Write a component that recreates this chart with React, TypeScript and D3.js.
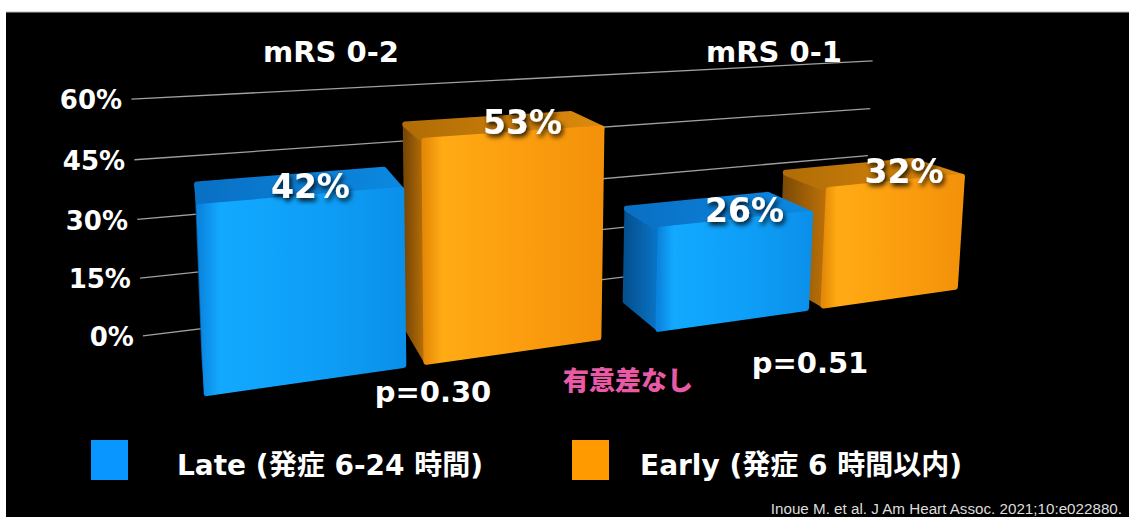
import * as d3 from "d3";
import { useEffect, useRef } from "react";

// ---- data ----
const groups = ["mRS 0-2", "mRS 0-1"];
const seriesNames = ["Late", "Early"];
const lateValues = [42, 26];
const earlyValues = [53, 32];
const yTicks = [0, 15, 30, 45, 60];
const pLabels = ["p=0.30", "p=0.51"];
const legendLabels = ["Late (発症 6-24 時間)", "Early (発症 6 時間以内)"];
const noteText = "有意差なし";
const citation = "Inoue M. et al. J Am Heart Assoc. 2021;10:e022880.";

const W = 1129;
const H = 517;
const FONT = "'DejaVu Sans', 'Noto Sans CJK JP', sans-serif";

// ---- camera (simple perspective, camera at world origin) ----
const CX = 492;
const CY = 52;
const F = 975;
const YAW = (18.1 * Math.PI) / 180;
const PITCH = (7.4 * Math.PI) / 180;
const FLOOR = -475.6; // world Y of the floor
const Z_FRONT = 990.6; // front plane of bars
const DEPTH = 90; // bar depth
const Z_WALL = 1160; // back wall with gridlines
const WALL_X = [-50, 960];

function project(X: number, Y: number, Z: number): [number, number] {
  const ct = Math.cos(YAW), st = Math.sin(YAW);
  const cp = Math.cos(PITCH), sp = Math.sin(PITCH);
  const x1 = X * ct - Z * st;
  const z1 = X * st + Z * ct;
  const y2 = Y * cp + z1 * sp;
  const z2 = -Y * sp + z1 * cp;
  return [CX + (F * x1) / z2, CY - (F * y2) / z2];
}

const colors: Record<string, any> = {
  Late: { front: ["#0a84de", "#12a9ff", "#0e9ef7", "#0b90ea"], top: ["#0970c4", "#0c88e0"], side: ["#05508f", "#0a78cc"], key: "#0996ff" },
  Early: { front: ["#e58a08", "#ffab14", "#fb9c0e", "#f3920a"], top: ["#b06c06", "#dc8a0c"], side: ["#7a4805", "#c07408"], key: "#ff9a00" },
};

export default function App() {
  const ref = useRef<SVGSVGElement | null>(null);

  useEffect(() => {
    const svg = d3.select(ref.current);
    svg.selectAll("*").remove();

    // ---- scales (world units) ----
    const xGroup = d3.scaleBand().domain(groups).range([16, 970]).paddingInner(0.151);
    const xSeries = d3.scaleBand().domain(seriesNames).range([0, xGroup.bandwidth()]).paddingInner(0.112);
    const y = d3.scaleLinear().domain([0, 60]).range([FLOOR, FLOOR + 280.6]);

    // 2D annotation placement
    const titleX = d3.scalePoint().domain(groups).range([331, 774]);
    const pX = d3.scalePoint().domain(groups).range([433, 810]);
    const pY = d3.scalePoint().domain(groups).range([402, 373]);
    const legendX = d3.scalePoint().domain(seriesNames).range([91, 572]);

    const defs = svg.append("defs");
    const shadow = defs.append("filter").attr("id", "shadow").attr("x", "-20%").attr("y", "-20%").attr("width", "150%").attr("height", "160%");
    shadow.append("feDropShadow").attr("dx", 2).attr("dy", 3).attr("stdDeviation", 2.5).attr("flood-color", "#000").attr("flood-opacity", 0.9);

    const grad = (id: string, stops: string[]) => {
      const g = defs.append("linearGradient").attr("id", id).attr("x1", 0).attr("x2", 1).attr("y1", 0).attr("y2", 0);
      stops.forEach((c, i) => {
        const off = stops.length === 4 ? [0, 0.1, 0.6, 1][i] : i / (stops.length - 1);
        g.append("stop").attr("offset", off).attr("stop-color", c);
      });
    };
    seriesNames.forEach((s) => {
      grad(`front-${s}`, colors[s].front);
      grad(`top-${s}`, colors[s].top);
      grad(`side-${s}`, colors[s].side);
    });

    // ---- background ----
    svg.append("rect").attr("width", W).attr("height", H).attr("fill", "#fff");
    svg.append("rect").attr("x", 6).attr("y", 12).attr("width", W - 6).attr("height", H - 12).attr("fill", "#000");
    svg.append("line").attr("x1", 6).attr("x2", W).attr("y1", 12).attr("y2", 12).attr("stroke", "#bbb");

    // ---- gridlines on back wall ----
    const gridG = svg.append("g");
    yTicks.forEach((t) => {
      const a = project(WALL_X[0], y(t), Z_WALL);
      const b = project(WALL_X[1], y(t), Z_WALL);
      gridG.append("line").attr("x1", a[0]).attr("y1", a[1]).attr("x2", b[0]).attr("y2", b[1])
        .attr("stroke", "#a0a0a0").attr("stroke-width", 1.3);
      const l = project(WALL_X[0] - 10, y(t), Z_WALL);
      gridG.append("text").attr("x", l[0]).attr("y", l[1]).attr("dy", "0.36em").attr("text-anchor", "end")
        .attr("fill", "#fff").attr("font-family", FONT).attr("font-weight", 700).attr("font-size", 26)
        .text(`${t}%`);
    });

    // ---- bars ----
    const bars = groups.flatMap((g, i) => [
      { g, s: "Late", v: lateValues[i], x0: xGroup(g)! + xSeries("Late")! },
      { g, s: "Early", v: earlyValues[i], x0: xGroup(g)! + xSeries("Early")! },
    ]).map((d) => ({ ...d, x1: d.x0 + xSeries.bandwidth() }));

    const poly = d3.line<[number, number]>().curve(d3.curveLinearClosed);
    const face = (pts: [number, number, number][]) => poly(pts.map((p) => project(p[0], p[1], p[2])));

    const barG = svg.append("g");
    [...bars].sort((a, b) => b.x0 - a.x0).forEach((d) => {
      const y0 = y(0), yt = y(d.v);
      const zf = Z_FRONT, zb = Z_FRONT + DEPTH;
      const g = barG.append("g").attr("stroke-linejoin", "round");
      if (d.x0 > 0) {
        g.append("path").attr("d", face([[d.x0, y0, zf], [d.x0, yt, zf], [d.x0, yt, zb], [d.x0, y0, zb]]))
          .attr("fill", `url(#side-${d.s})`).attr("stroke", `url(#side-${d.s})`).attr("stroke-width", 5);
      }
      g.append("path").attr("d", face([[d.x0, yt, zf], [d.x1, yt, zf], [d.x1, yt, zb], [d.x0, yt, zb]]))
        .attr("fill", `url(#top-${d.s})`).attr("stroke", `url(#top-${d.s})`).attr("stroke-width", 6);
      g.append("path").attr("d", face([[d.x0, y0, zf], [d.x1, y0, zf], [d.x1, yt, zf], [d.x0, yt, zf]]))
        .attr("fill", `url(#front-${d.s})`).attr("stroke", `url(#front-${d.s})`).attr("stroke-width", 6);
    });

    // ---- value labels (front-top centre of each bar) ----
    bars.forEach((d) => {
      const c = project((d.x0 + d.x1) / 2, y(d.v), Z_FRONT);
      svg.append("text").attr("x", c[0] + 7).attr("y", c[1]).attr("text-anchor", "middle")
        .attr("fill", "#fff").attr("font-family", FONT).attr("font-weight", 700).attr("font-size", 33)
        .attr("filter", "url(#shadow)").text(`${d.v}%`);
    });

    // ---- titles and p-values ----
    groups.forEach((g, i) => {
      svg.append("text").attr("x", titleX(g)!).attr("y", 62).attr("text-anchor", "middle")
        .attr("fill", "#fff").attr("font-family", FONT).attr("font-weight", 700).attr("font-size", 29).text(g);
      svg.append("text").attr("x", pX(g)!).attr("y", pY(g)!).attr("text-anchor", "middle")
        .attr("fill", "#fff").attr("font-family", FONT).attr("font-weight", 700).attr("font-size", 29).text(pLabels[i]);
    });
    svg.append("text").attr("x", 628).attr("y", 390).attr("text-anchor", "middle")
      .attr("fill", "#e85aa6").attr("font-family", "'Noto Sans CJK JP', sans-serif").attr("font-weight", 900)
      .attr("font-size", 26).text(noteText);

    // ---- legend ----
    seriesNames.forEach((s, i) => {
      const lx = legendX(s)!;
      svg.append("rect").attr("x", lx).attr("y", 440).attr("width", 37).attr("height", 40).attr("fill", colors[s].key);
      svg.append("text").attr("x", lx + 86 - i * 18).attr("y", 475).attr("fill", "#fff")
        .attr("font-family", FONT).attr("font-weight", 700).attr("font-size", 28).text(legendLabels[i]);
    });

    // ---- citation ----
    svg.append("text").attr("x", 1122).attr("y", 514).attr("text-anchor", "end").attr("fill", "#ddd")
      .attr("font-family", "'Liberation Sans', Arial, sans-serif").attr("font-size", 15.2).text(citation);
  }, []);

  return (
    <div style={{ position: "absolute", left: 0, top: 0 }}>
      <svg ref={ref} width={W} height={H} style={{ display: "block" }} />
    </div>
  );
}
